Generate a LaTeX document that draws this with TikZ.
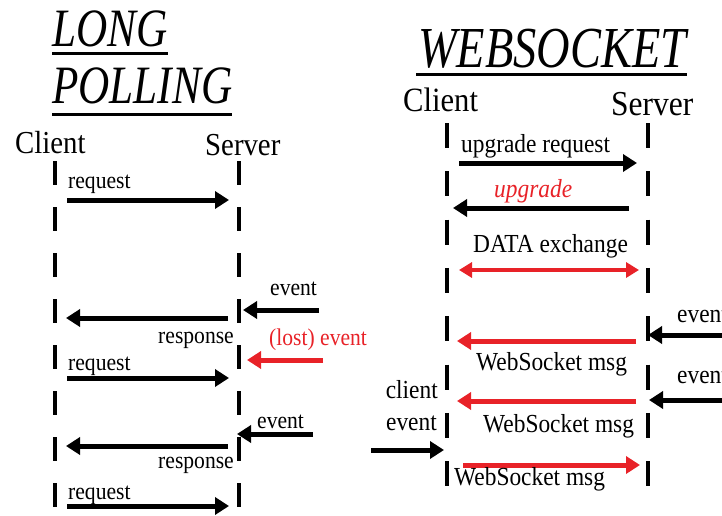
\documentclass[tikz,border=0pt]{standalone}
\usepackage{fontspec}
\setmainfont[FakeStretch=0.9]{Liberation Serif}
\newfontfamily\titlefont[FakeStretch=0.8]{Liberation Serif}
\usepackage{tikz}
\usetikzlibrary{arrows.meta}

\definecolor{lostred}{RGB}{232,34,40}

\begin{document}
\begin{tikzpicture}[
  x=1pt, y=-1pt,
  title/.style={anchor=base west, inner sep=0pt,
    font=\titlefont\fontsize{54}{60}\selectfont\itshape},
  actor/.style={anchor=base west, inner sep=0pt,
    font=\fontsize{32}{36}\selectfont},
  lbl/.style={inner sep=0pt, font=\fontsize{24}{28}\selectfont},
  wlbl/.style={inner sep=0pt, font=\fontsize{26}{30}\selectfont},
  lifeline/.style={line width=4pt, dash pattern=on 24pt off 22pt},
  wlifeline/.style={line width=4pt, dash pattern=on 25pt off 23.3pt},
  bar/.style={line width=3pt},
  msg/.style={line width=5pt, -{Triangle[length=14pt, width=17pt]}},
  lost/.style={msg, lostred},
  both/.style={line width=4pt, lostred,
    {Triangle[length=13pt, width=15pt]}-{Triangle[length=13pt, width=15pt]}}
]
  \useasboundingbox (0,0) rectangle (722,516);

  % long polling side
  \node[title] (long) at (52,47) {LONG};
  \node[title] (polling) at (52,103) {POLLING};
  \draw[bar] (long.base west) ++(0,7) coordinate (u1a) -- (u1a -| long.base east);
  \draw[bar] (polling.base west) ++(0,12) coordinate (u2a) -- (u2a -| polling.base east);

  \node[actor] (lpclient) at (15,153) {Client};
  \node[actor] (lpserver) at (205,155) {Server};

  \coordinate (lpc-top) at (55,161);
  \coordinate (lpc-bot) at (55,508);
  \coordinate (lps-top) at (239,161);
  \coordinate (lps-bot) at (239,508);
  \draw[lifeline] (lpc-top) -- (lpc-bot);
  \draw[lifeline] (lps-top) -- (lps-bot);

  \coordinate (reqA-s) at (67,200);  \coordinate (reqA-e) at (229,200);
  \coordinate (evA-s) at (319,310);  \coordinate (evA-e) at (243,310);
  \coordinate (resA-s) at (228,318); \coordinate (resA-e) at (66,318);
  \coordinate (lost-s) at (323,360); \coordinate (lost-e) at (247,360);
  \coordinate (reqB-s) at (67,378);  \coordinate (reqB-e) at (229,378);
  \coordinate (evB-s) at (313,434);  \coordinate (evB-e) at (237,434);
  \coordinate (resB-s) at (228,446); \coordinate (resB-e) at (66,446);
  \coordinate (reqC-s) at (67,506);  \coordinate (reqC-e) at (229,506);

  \draw[msg] (reqA-s) -- (reqA-e);
  \draw[msg] (evA-s) -- (evA-e);
  \draw[msg] (resA-s) -- (resA-e);
  \draw[lost] (lost-s) -- (lost-e);
  \draw[msg] (reqB-s) -- (reqB-e);
  \draw[msg] (evB-s) -- (evB-e);
  \draw[msg] (resB-s) -- (resB-e);
  \draw[msg] (reqC-s) -- (reqC-e);

  \node[lbl, anchor=base west] (reqA-l) at (68,188) {request};
  \node[lbl, anchor=base west] (evA-l) at (270,295) {event};
  \node[lbl, anchor=base east] (resA-l) at (234,343) {response};
  \node[lbl, anchor=base west, text=lostred] (lost-l) at (269,345) {(lost) event};
  \node[lbl, anchor=base west] (reqB-l) at (68,370) {request};
  \node[lbl, anchor=base west] (evB-l) at (257,428) {event};
  \node[lbl, anchor=base east] (resB-l) at (234,468) {response};
  \node[lbl, anchor=base west] (reqC-l) at (68,499) {request};

  % websocket side
  \node[title, font=\titlefont\fontsize{58}{64}\selectfont\itshape] (websocket) at (418,68) {WEBSOCKET};
  \draw[bar] (websocket.base west) ++(-2,7) coordinate (u3a) -- (u3a -| websocket.base east);

  \node[actor, font=\fontsize{34}{38}\selectfont] (wsclient) at (403,112) {Client};
  \node[actor, font=\fontsize{35}{40}\selectfont] (wsserver) at (611,115) {Server};

  \coordinate (wsc-top) at (447,123);
  \coordinate (wsc-bot) at (447,489);
  \coordinate (wss-top) at (648,123);
  \coordinate (wss-bot) at (648,489);
  \draw[wlifeline] (wsc-top) -- (wsc-bot);
  \draw[wlifeline] (wss-top) -- (wss-bot);

  \coordinate (upr-s) at (459,163); \coordinate (upr-e) at (637,163);
  \coordinate (upg-s) at (629,208); \coordinate (upg-e) at (453,208);
  \coordinate (dat-s) at (459,270); \coordinate (dat-e) at (639,270);
  \coordinate (evC-s) at (730,335); \coordinate (evC-e) at (648,335);
  \coordinate (wsA-s) at (636,341); \coordinate (wsA-e) at (457,341);
  \coordinate (evD-s) at (730,400); \coordinate (evD-e) at (649,400);
  \coordinate (wsB-s) at (636,401); \coordinate (wsB-e) at (457,401);
  \coordinate (cev-s) at (371,450); \coordinate (cev-e) at (444,450);
  \coordinate (wsC-s) at (463,465); \coordinate (wsC-e) at (640,465);

  \draw[msg] (upr-s) -- (upr-e);
  \draw[msg] (upg-s) -- (upg-e);
  \draw[both] (dat-s) -- (dat-e);
  \draw[msg] (evC-s) -- (evC-e);
  \draw[lost] (wsA-s) -- (wsA-e);
  \draw[msg] (evD-s) -- (evD-e);
  \draw[lost] (wsB-s) -- (wsB-e);
  \draw[msg] (cev-s) -- (cev-e);
  \draw[lost] (wsC-s) -- (wsC-e);

  \node[wlbl, anchor=base west] (upr-l) at (461,152) {upgrade request};
  \node[wlbl, anchor=base west, text=lostred, font=\fontsize{26}{30}\selectfont\itshape]
    (upg-l) at (494,197) {upgrade};
  \node[wlbl, anchor=base west] (dat-l) at (473,252) {DATA exchange};
  \node[wlbl, anchor=base west] (evC-l) at (677,322) {event};
  \node[wlbl, anchor=base west] (wsA-l) at (476,370) {WebSocket msg};
  \node[wlbl, anchor=base west] (evD-l) at (677,383) {event};
  \node[wlbl, anchor=base west] (wsB-l) at (483,432) {WebSocket msg};
  \node[wlbl, anchor=base east] (cev-l1) at (438,398) {client};
  \node[wlbl, anchor=base east] (cev-l2) at (437,430) {event};
  \node[wlbl, anchor=base west] (wsC-l) at (454,485) {WebSocket msg};
\end{tikzpicture}
\end{document}
